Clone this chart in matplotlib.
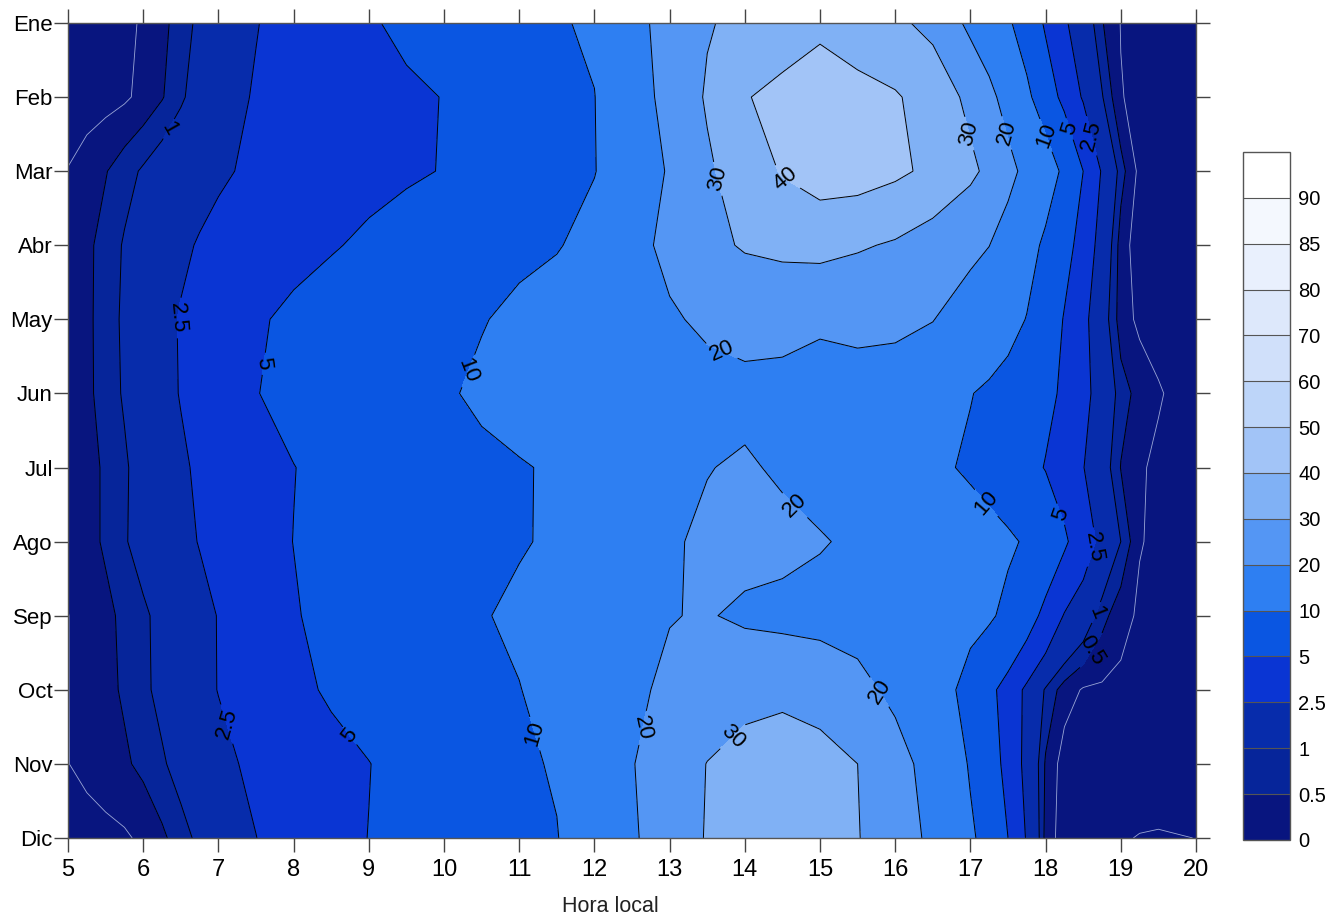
import numpy as np
import matplotlib
matplotlib.use('Agg')
import matplotlib.pyplot as plt

plt.rcParams['font.family'] = ['Liberation Sans', 'DejaVu Sans']

# grid: local hour (columns) x month (rows)
hours = [5, 5.25, 5.5, 5.75, 6, 6.25, 6.5, 6.75, 7, 7.5, 8, 8.5, 9, 9.5, 10,
         10.5, 11, 11.5, 12, 12.5, 13, 13.5, 14, 14.5, 15, 15.5, 16, 16.5, 17,
         17.25, 17.5, 17.75, 18, 18.25, 18.5, 18.75, 19, 19.25, 19.5, 20]
months = ['Ene', 'Feb', 'Mar', 'Abr', 'May', 'Jun', 'Jul', 'Ago', 'Sep',
          'Oct', 'Nov', 'Dic']

ene = [-0.3, -0.25, -0.2, -0.1, 0.05, 0.36, 0.73, 1.15, 1.58,
       2.43, 3.2, 3.95, 4.71, 5.59, 6.55, 7.5, 8.45, 9.41, 10.9,
       17.3, 23.1, 29.3, 32.4, 35.2, 38.0, 34.9, 31.8, 27.5, 17.9,
       14.3, 10.7, 7.44, 4.56, 2.72, 1.56, 0.54, -0.02, -0.15, -0.25, -0.35]
feb = [-0.3, -0.25, -0.18, -0.08, 0.14, 0.46, 0.89, 1.36, 1.84,
       2.64, 3.12, 3.6, 4.07, 4.55, 5.07, 6.27, 7.48, 8.68, 9.88,
       15.8, 22.8, 31.0, 39.5, 42.4, 45.0, 42.95, 40.9, 36.0, 27.6,
       22.2, 16.7, 11.1, 6.9, 4.04, 2.3, 1.05, 0.03, -0.15, -0.25, -0.35]
mar = [0.02, 0.24, 0.47, 0.78, 1.08, 1.38, 1.68, 1.98, 2.28,
       2.79, 3.24, 3.69, 4.14, 4.59, 5.12, 6.28, 7.44, 8.6, 9.77,
       14.7, 20.8, 28.6, 35.0, 40.7, 44.5, 44.4, 41.8, 38.0, 31.9,
       27.9, 22.6, 17.6, 13.1, 8.8, 5.0, 2.31, 0.71, -0.15, -0.25, -0.35]
abr = [0.15, 0.39, 0.69, 1.06, 1.46, 1.85, 2.25, 2.61, 2.92,
       3.53, 4.15, 4.77, 5.5, 6.31, 7.13, 7.94, 8.75, 9.56, 12.2,
       17.1, 22.2, 27.8, 30.8, 32.2, 33.0, 31.0, 29.0, 25.4, 21.9,
       20.1, 16.25, 12.3, 8.9, 6.2, 3.75, 1.75, 0.27, -0.3, -0.3, -0.35]
may = [0.2, 0.4, 0.7, 1.12, 1.61, 2.1, 2.6, 3.12, 3.64,
       4.67, 5.56, 6.39, 7.22, 8.05, 8.87, 9.7, 11.2, 13.2, 15.1,
       17.0, 19.0, 21.5, 23.3, 22.5, 20.8, 21.4, 21.4, 20.2, 16.2,
       14.1, 12.0, 9.8, 7.24, 4.78, 2.94, 1.4, 0.25, -0.12, -0.22, -0.35]
jun = [0.2, 0.4, 0.68, 1.08, 1.57, 2.07, 2.57, 3.15, 3.74,
       4.91, 5.85, 6.78, 7.7, 8.63, 9.3, 11.0, 13.0, 14.3, 15.3,
       16.0, 16.6, 17.1, 17.5, 17.6, 17.8, 17.8, 17.0, 14.5, 10.2,
       9.04, 7.94, 6.84, 5.75, 4.52, 3.04, 1.73, 0.72, 0.32, 0.05, -0.3]
jul = [0.15, 0.34, 0.57, 0.9, 1.34, 1.8, 2.28, 2.73, 3.17,
       4.06, 4.95, 5.71, 6.47, 7.23, 8.0, 8.75, 9.5, 10.8, 13.0,
       15.3, 17.5, 19.7, 21.1, 18.7, 16.8, 15.0, 13.1, 11.2, 9.2,
       8.1, 7.0, 5.95, 4.86, 3.7, 2.55, 1.41, 0.48, 0.06, -0.1, -0.3]
ago = [0.15, 0.34, 0.57, 0.93, 1.33, 1.73, 2.14, 2.56, 3.06,
       4.05, 5.03, 5.77, 6.52, 7.26, 8.0, 8.75, 9.49, 10.9, 13.6,
       16.3, 19.0, 21.5, 23.0, 22.5, 20.6, 18.6, 16.6, 14.6, 12.7,
       11.7, 10.7, 9.5, 7.5, 5.4, 3.5, 2.0, 1.0, 0.03, -0.1, -0.3]
sep = [-0.01, 0.19, 0.38, 0.61, 0.87, 1.23, 1.66, 2.1, 2.55,
       3.67, 4.8, 5.78, 6.72, 7.67, 8.62, 9.56, 11.2, 13.3, 15.4,
       17.6, 19.7, 20.6, 18.5, 17.5, 17.0, 16.5, 15.5, 13.5, 11.5,
       10.6, 8.9, 6.4, 4.14, 2.37, 1.57, 0.68, 0.18, -0.08, -0.15, -0.3]
octu = [-0.01, 0.18, 0.36, 0.57, 0.85, 1.21, 1.65, 2.09, 2.54,
        3.47, 4.4, 5.32, 6.22, 7.12, 8.02, 8.92, 9.82, 12.4, 15.5,
        18.5, 21.5, 24.5, 27.3, 27.8, 26.0, 22.5, 18.0, 13.0, 8.1,
        5.8, 3.75, 2.1, 0.9, 0.25, -0.05, -0.08, -0.12, -0.15, -0.18, -0.3]
nov = [-0.01, 0.14, 0.28, 0.42, 0.63, 0.91, 1.28, 1.68, 2.09,
       2.85, 3.55, 4.25, 4.94, 5.95, 6.99, 8.03, 9.07, 10.5, 15.0,
       19.6, 24.9, 30.2, 33.0, 35.0, 33.5, 30.0, 23.4, 16.5, 9.4,
       6.6, 4.0, 1.91, 0.43, -0.25, -0.2, -0.18, -0.16, -0.15, -0.15, -0.2]
dic = [-0.3, -0.22, -0.15, -0.07, 0.1, 0.4, 0.76, 1.16, 1.6,
       2.48, 3.33, 4.18, 5.04, 5.99, 6.94, 7.89, 8.84, 9.79, 13.9,
       18.9, 24.7, 30.6, 33.5, 36.0, 34.0, 30.4, 24.6, 18.1, 10.9,
       7.8, 5.0, 2.3, 0.33, -0.3, -0.3, -0.2, -0.02, 0.01, 0.02, -0.002]

Z = np.array([ene, feb, mar, abr, may, jun, jul, ago, sep, octu, nov, dic])

levels = [-1, 0.5, 1, 2.5, 5, 10, 20, 30, 40, 50, 60, 70, 80, 85, 90, 100]
level_labels = ['0', '0.5', '1', '2.5', '5', '10', '20', '30', '40', '50',
                '60', '70', '80', '85', '90']
colors = ['#08157f', '#06259a', '#072cab', '#0a35d3', '#0a56e2', '#2e7ff2',
          '#5496f4', '#80b1f5', '#a2c4f7', '#bdd5f9', '#d0e0fa', '#dde8fb',
          '#e9f0fd', '#f4f8fe', '#ffffff']

fig = plt.figure(figsize=(13.32, 9.15), dpi=100)
ax = fig.add_axes([0.0511, 0.0842, 0.8468, 0.8907])

X, Y = np.meshgrid(hours, np.arange(1, 13))
cf = ax.contourf(X, Y, Z, levels=levels, colors=colors)
cs = ax.contour(X, Y, Z, levels=levels[1:9], colors='black', linewidths=0.7)
ax.contour(X, Y, Z, levels=[0], colors='#9aa6d6', linewidths=0.6)


def fmt(v):
    return '%g' % v


label_pos = [(6.36, 2.44), (6.45, 4.98), (7.53, 5.59), (10.28, 5.68),
             (13.58, 3.12), (14.53, 3.12), (13.67, 5.48),
             (17.03, 2.48), (17.5, 2.48), (18.02, 2.51), (18.35, 2.42),
             (18.66, 2.51), (14.57, 7.61), (17.29, 7.41), (18.26, 7.61),
             (18.62, 8.07), (18.68, 8.96), (18.59, 9.46),
             (7.09, 10.47), (8.72, 10.64), (11.28, 10.57), (12.58, 10.5),
             (13.78, 10.57), (15.84, 10.0)]
ax.clabel(cs, fmt=fmt, fontsize=16, inline=True, manual=label_pos)

ax.set_xlim(5, 20)
ax.set_ylim(12, 1)
ax.set_xticks(range(5, 21))
ax.set_yticks(range(1, 13))
ax.set_yticklabels(months)
ax.tick_params(axis='x', which='both', direction='out', length=10, width=1,
               color='#444444', labelsize=17, pad=5, top=True)
ax.tick_params(axis='y', which='both', direction='out', length=10, width=1,
               color='#444444', labelsize=16, pad=1, right=True)
for s in ax.spines.values():
    s.set_color('#555555')
    s.set_linewidth(1)
ax.set_xlabel('Hora local', fontsize=15.5, color='#222222')
ax.xaxis.set_label_coords(0.481, -0.071)

cax = fig.add_axes([0.9332, 0.082, 0.0353, 0.752])
cb = fig.colorbar(cf, cax=cax, spacing='uniform', drawedges=True,
                  ticks=levels[:-1])
cb.set_ticklabels(level_labels)
cb.ax.tick_params(length=0, labelsize=14.5, pad=6)
cb.outline.set_edgecolor('#555555')
cb.outline.set_linewidth(1)
cb.dividers.set_color('#555555')
cb.dividers.set_linewidth(0.8)

fig.savefig('out.png', dpi=100)
